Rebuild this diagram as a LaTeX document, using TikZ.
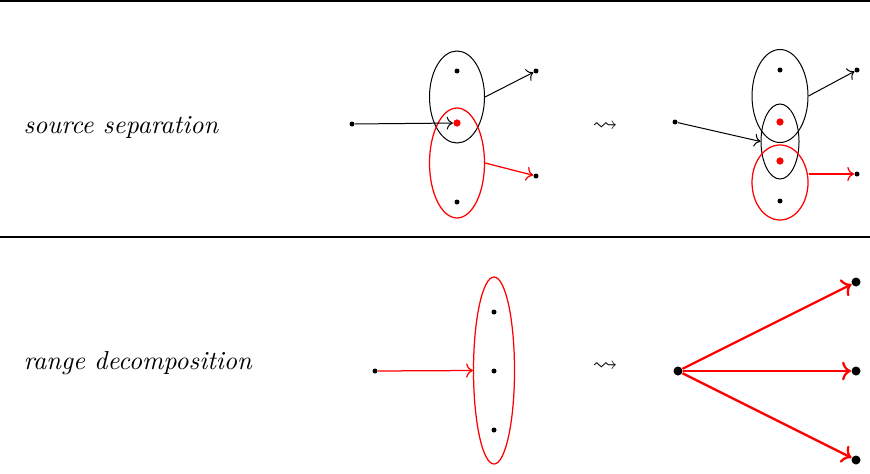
\documentclass[tikz,border=0pt]{standalone}
\usepackage{amsmath,amssymb}
\usepackage{tikz}
\usetikzlibrary{arrows.meta,positioning,shapes.geometric,calc}

\begin{document}
\begin{tikzpicture}[
    x=0.4pt, y=-0.4pt,
    dot/.style={circle, fill, inner sep=0pt, minimum size=2pt},
    rdot/.style={circle, fill=red, inner sep=0pt, minimum size=2.9pt},
    bigdot/.style={circle, fill, inner sep=0pt, minimum size=3.6pt},
    blob/.style={ellipse, draw, inner sep=0pt},
    label/.style={anchor=west, inner sep=0pt, font=\fontsize{10.4}{12}\selectfont\itshape},
    rule/.style={line width=0.8pt},
    arrow/.style={->},
    rarrow/.style={->, red, line width=0.5pt},
    bigarrow/.style={->, red, line width=0.9pt}
  ]
    \useasboundingbox (0,0) rectangle (870,473);
    \draw[rule] (0,1) -- (870,1);
    \draw[rule] (0,236.5) -- (870,236.5);

    % source separation
    \node[label] (lsrc) at (23,128) {source separation};
    \node[dot] (s1) at (352,124) {};
    \node[blob, minimum width=22pt, minimum height=36.8pt] (e1) at (457,97) {};
    \node[blob, red, line width=0.5pt, minimum width=22pt, minimum height=44pt] (e2) at (457,163) {};
    \node[dot] (a1) at (457,71) {};
    \node[rdot] (a2) at (457,123) {};
    \node[dot] (a3) at (457,202) {};
    \node[dot] (o1) at (536,71) {};
    \node[dot] (o2) at (536,176) {};
    \draw[arrow] (s1) -- (a2);
    \draw[arrow] (e1.east) -- (o1);
    \draw[rarrow] (e2.east) -- (o2);

    \node (lt1) at (605,127) {$\leadsto$};

    \node[dot] (s2) at (675,122) {};
    \node[blob, minimum width=22.4pt, minimum height=37.2pt] (e3) at (780,96) {};
    \node[blob, minimum width=15.2pt, minimum height=30pt] (e4) at (780,141.5) {};
    \node[blob, red, line width=0.5pt, minimum width=22.4pt, minimum height=30pt] (e5) at (780,182.5) {};
    \node[dot] (b1) at (780,70) {};
    \node[rdot] (b2) at (780,122) {};
    \node[rdot] (b3) at (780,161) {};
    \node[dot] (b4) at (780,201) {};
    \node[dot] (p1) at (857,70) {};
    \node[dot] (p2) at (857,174) {};
    \draw[arrow] (s2) -- (e4.west);
    \draw[arrow] (e3.east) -- (p1);
    \draw[rarrow] (p2 -| e5.east) -- (p2);

    % range decomposition
    \node[label] (lrng) at (23,363) {range decomposition};
    \node[dot] (s3) at (375,371) {};
    \node[blob, red, line width=0.5pt, minimum width=16.4pt, minimum height=74.8pt] (e6) at (494,370.5) {};
    \node[dot] (c1) at (494,312) {};
    \node[dot] (c2) at (494,371) {};
    \node[dot] (c3) at (494,430) {};
    \draw[rarrow] (s3) -- (e6.west);

    \node (lt2) at (605,367) {$\leadsto$};

    \node[bigdot] (d0) at (678,371) {};
    \node[bigdot] (d1) at (856,282) {};
    \node[bigdot] (d2) at (856,371) {};
    \node[bigdot] (d3) at (856,460) {};
    \foreach \t in {d1,d2,d3}
      \draw[bigarrow] (d0) -- (\t);
\end{tikzpicture}
\end{document}
